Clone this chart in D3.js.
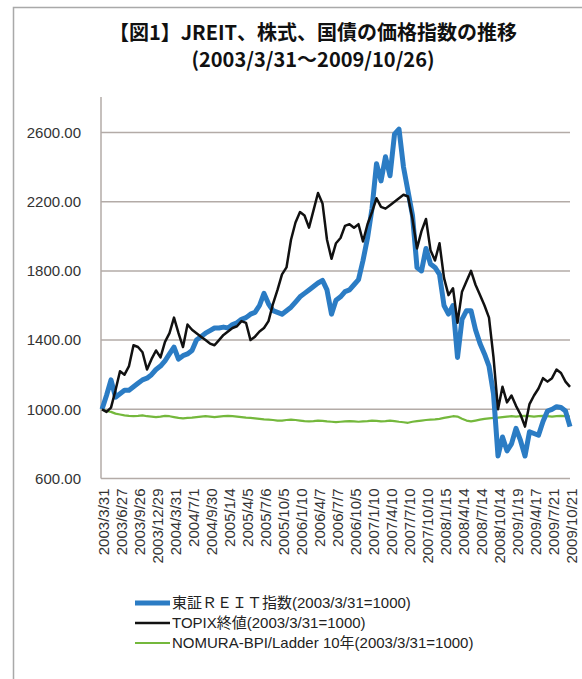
<!DOCTYPE html>
<html>
<head>
<meta charset="utf-8">
<script src="https://cdn.jsdelivr.net/npm/d3@7"></script>
<style>
  body { margin: 0; background: #fff; }
  svg { display: block; font-family: "Liberation Sans", "Noto Sans CJK JP", sans-serif; }
</style>
</head>
<body>
<script>
// category labels on the x axis (one every 4 sampled points)
var xLabels = ["2003/3/31", "2003/6/27", "2003/9/26", "2003/12/29", "2004/3/31", "2004/7/1",
    "2004/9/30", "2005/1/4", "2005/4/5", "2005/7/6", "2005/10/5", "2006/1/10", "2006/4/7",
    "2006/7/7", "2006/10/5", "2007/1/10", "2007/4/10", "2007/7/10", "2007/10/10", "2008/1/15",
    "2008/4/14", "2008/7/14", "2008/10/14", "2009/1/19", "2009/4/17", "2009/7/21", "2009/10/21"];

var yTicks = [600, 1000, 1400, 1800, 2200, 2600];

// 東証REIT指数
var reit = [
    1000, 1080, 1170, 1070, 1090, 1110, 1110, 1130, 1150, 1170,
    1180, 1200, 1230, 1250, 1280, 1320, 1360, 1290, 1310, 1320,
    1340, 1400, 1420, 1440, 1455, 1470, 1470, 1475, 1470, 1490,
    1500, 1520, 1530, 1550, 1560, 1600, 1670, 1610, 1570, 1560,
    1550, 1570, 1590, 1620, 1650, 1670, 1690, 1710, 1730, 1745,
    1690, 1550, 1630, 1650, 1680, 1690, 1720, 1750, 1860, 1990,
    2160, 2420, 2320, 2460, 2350, 2590, 2620, 2400, 2260, 2120,
    1820, 1800, 1930, 1840, 1820, 1780, 1600, 1550, 1600, 1300,
    1520, 1570, 1570, 1460, 1380, 1320, 1250, 1090, 730, 840,
    760, 800, 890, 820, 730, 870, 860, 850, 930, 990,
    1000, 1015, 1010, 990, 900
];

// TOPIX終値
var topix = [
    1000, 985, 1010, 1110, 1220, 1200, 1250, 1370, 1360, 1330,
    1230, 1290, 1340, 1300, 1390, 1440, 1530, 1440, 1360, 1490,
    1460, 1440, 1420, 1400, 1380, 1370, 1400, 1430, 1450, 1470,
    1480, 1510, 1500, 1400, 1420, 1450, 1470, 1510, 1610, 1690,
    1780, 1820, 1980, 2080, 2140, 2120, 2050, 2150, 2250, 2190,
    1980, 1870, 1960, 1990, 2060, 2070, 2050, 2070, 1970, 2070,
    2140, 2220, 2170, 2160, 2180, 2200, 2220, 2240, 2230, 2100,
    1930, 2030, 2100, 1920, 1860, 1960, 1760, 1660, 1700, 1500,
    1680, 1740, 1800, 1720, 1660, 1600, 1530, 1300, 1000, 1130,
    1040, 1080, 1020, 970, 900, 1030, 1080, 1120, 1180, 1160,
    1180, 1230, 1210, 1160, 1130
];

// NOMURA-BPI/Ladder 10年
var nomura = [
    1000, 990, 985, 975, 970, 965, 962, 960, 962, 965,
    960, 958, 955, 958, 962, 960, 955, 950, 948, 950,
    952, 955, 958, 960, 958, 955, 958, 960, 962, 960,
    958, 955, 952, 950, 948, 945, 942, 940, 938, 935,
    935, 938, 940, 938, 935, 932, 930, 932, 935, 933,
    930, 928, 926, 928, 930, 932, 930, 928, 930, 932,
    935, 933, 930, 932, 935, 932, 928, 925, 922, 928,
    932, 935, 938, 940, 942, 945, 950, 955, 960, 958,
    945, 935, 930, 935, 940, 945, 948, 950, 952, 955,
    958, 960, 958, 960, 962, 960, 958, 960, 962, 960,
    958, 960, 962, 960, 958
];

var seriesNames = ["東証ＲＥＩＴ指数(2003/3/31=1000)", "TOPIX終値(2003/3/31=1000)", "NOMURA-BPI/Ladder 10年(2003/3/31=1000)"];
var seriesColors = ["#2b7cc4", "#111111", "#74b83c"];
var seriesWidths = [5, 2.5, 2.2];

var width = 582, height = 679;
var plot = { left: 101, right: 570, top: 97, bottom: 478.5 };

var svg = d3.select("body").append("svg")
    .attr("width", width)
    .attr("height", height);

// outer frame
svg.append("rect")
    .attr("x", 13.5).attr("y", 7.5)
    .attr("width", 600).attr("height", 700)
    .attr("fill", "#fff")
    .attr("stroke", "#a9a9a9")
    .attr("stroke-width", 1.5);

// title
var title = svg.append("text")
    .attr("text-anchor", "middle")
    .style("font-family", "'Noto Sans CJK JP', sans-serif")
    .style("font-weight", "bold")
    .style("font-size", "20px")
    .attr("fill", "#111");
title.append("tspan").attr("x", 313).attr("y", 40).text("【図1】JREIT、株式、国債の価格指数の推移");
title.append("tspan").attr("x", 313).attr("y", 67).text("(2003/3/31～2009/10/26)");

var n = reit.length;
var x = d3.scaleLinear().domain([0, n - 1]).range([102, 570]);
var y = d3.scaleLinear().domain([600, 2600]).range([plot.bottom, 132.5]);

// gridlines
svg.append("g")
    .selectAll("line")
    .data(yTicks)
    .enter().append("line")
    .attr("x1", plot.left).attr("x2", plot.right)
    .attr("y1", function (d) { return y(d); })
    .attr("y2", function (d) { return y(d); })
    .attr("stroke", "#b3aba7")
    .attr("stroke-width", 1.5);

// y axis line
svg.append("line")
    .attr("x1", plot.left).attr("x2", plot.left)
    .attr("y1", plot.top).attr("y2", plot.bottom)
    .attr("stroke", "#b3aba7")
    .attr("stroke-width", 1.5);

var yAxis = svg.append("g")
    .attr("transform", "translate(" + (plot.left - 17) + ",0)")
    .call(d3.axisLeft(y).tickValues(yTicks).tickSize(0).tickFormat(d3.format(".2f")));
yAxis.select(".domain").remove();
yAxis.selectAll("text")
    .style("font-size", "15px")
    .style("font-family", "'Liberation Sans', sans-serif")
    .attr("fill", "#333");

var tickIdx = xLabels.map(function (d, i) { return i * 4; });
var xAxis = svg.append("g")
    .attr("transform", "translate(1.5," + (plot.bottom + 10) + ")")
    .call(d3.axisBottom(x).tickValues(tickIdx).tickSize(0)
        .tickFormat(function (d) { return xLabels[d / 4]; }));
xAxis.select(".domain").remove();
xAxis.selectAll("text")
    .attr("transform", "rotate(-90)")
    .attr("text-anchor", "end")
    .attr("x", 0)
    .attr("y", 0)
    .attr("dy", "0.35em")
    .style("font-size", "15px")
    .style("font-family", "'Liberation Sans', sans-serif")
    .attr("fill", "#333");

var line = d3.line()
    .x(function (d, i) { return x(i); })
    .y(function (d) { return y(d); });

var allSeries = [nomura, reit, topix];
var order = [2, 0, 1];
allSeries.forEach(function (s, k) {
    var j = order[k];
    svg.append("path")
        .datum(s)
        .attr("d", line)
        .attr("fill", "none")
        .attr("stroke", seriesColors[j])
        .attr("stroke-width", seriesWidths[j])
        .attr("stroke-linejoin", "round");
});

// legend
var legend = svg.append("g");
var rows = legend.selectAll("g")
    .data(seriesNames)
    .enter().append("g")
    .attr("transform", function (d, i) { return "translate(135," + (603 + i * 20) + ")"; });
rows.append("line")
    .attr("x1", 0).attr("x2", 35)
    .attr("stroke", function (d, i) { return seriesColors[i]; })
    .attr("stroke-width", function (d, i) { return seriesWidths[i]; });
rows.append("text")
    .attr("x", 37)
    .attr("dy", "0.35em")
    .style("font-size", "15px")
    .attr("fill", "#222")
    .text(function (d) { return d; });
</script>
</body>
</html>
